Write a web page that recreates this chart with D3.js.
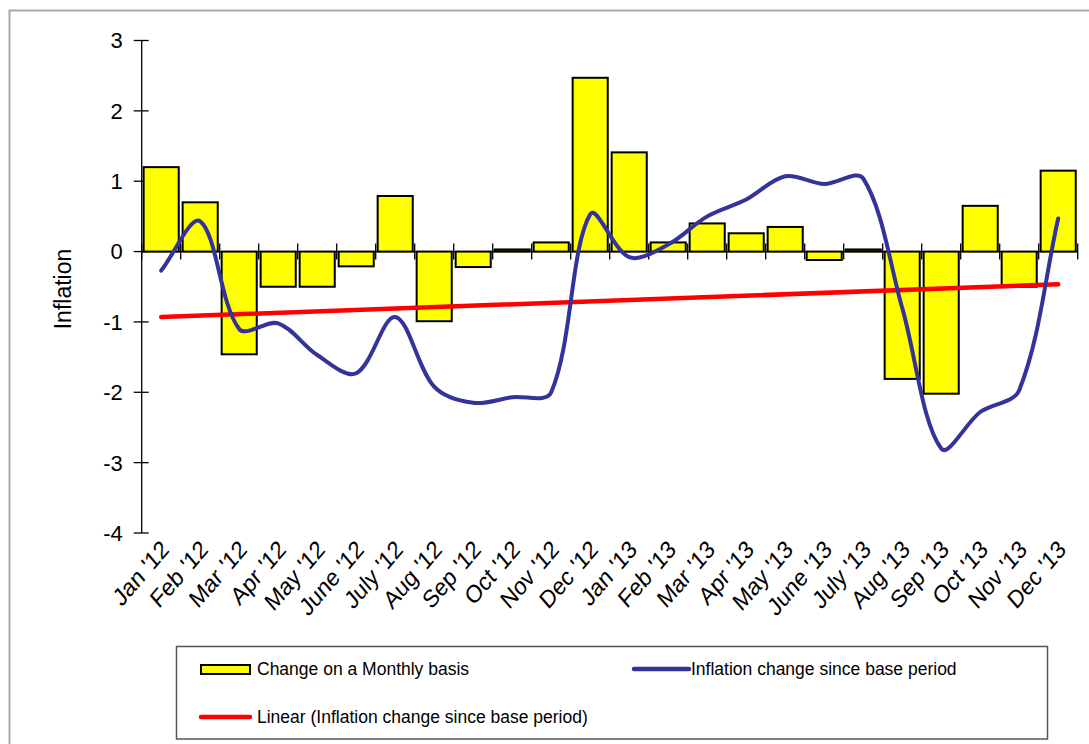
<!DOCTYPE html>
<html>
<head>
<meta charset="utf-8">
<script src="https://cdn.jsdelivr.net/npm/d3@7"></script>
<style>
  body { margin: 0; background: #fff; }
  svg { display: block; }
  text { font-family: "Liberation Sans", Arial, sans-serif; fill: #000; }
</style>
</head>
<body>
<svg id="chart" width="1089" height="744"></svg>
<script>
// Months on the category axis
const months = ["Jan '12", "Feb '12", "Mar '12", "Apr '12", "May '12", "June '12",
  "July '12", "Aug '12", "Sep '12", "Oct '12", "Nov '12", "Dec '12",
  "Jan '13", "Feb '13", "Mar '13", "Apr '13", "May '13", "June '13",
  "July '13", "Aug '13", "Sep '13", "Oct '13", "Nov '13", "Dec '13"];

// Month-on-month change (bars)
const monthlyChange = [1.2, 0.7, -1.46, -0.5, -0.5, -0.21, 0.79, -0.99, -0.22, 0.03, 0.13, 2.47,
  1.41, 0.13, 0.4, 0.26, 0.35, -0.12, 0.03, -1.81, -2.02, 0.65, -0.5, 1.15];

// Cumulative change since the base period (smoothed line)
const sinceBase = [-0.27, 0.43, -1.1, -1.02, -1.47, -1.73, -0.93, -1.92, -2.15, -2.07, -2.0, 0.53,
  -0.08, 0.1, 0.5, 0.74, 1.07, 0.96, 1.04, -0.8, -2.8, -2.28, -1.97, 0.47];

const yTicks = [3, 2, 1, 0, -1, -2, -3, -4];

const seriesNames = ["Change on a Monthly basis", "Inflation change since base period",
  "Linear (Inflation change since base period)"];

const barFill = "#ffff00";
const lineBlue = "#333399";
const trendRed = "#ff0000";

const svg = d3.select("#chart");

// Outer chart frame
svg.append("rect")
  .attr("x", 9.5).attr("y", 10.5).attr("width", 1200).attr("height", 900)
  .attr("fill", "none").attr("stroke", "#a8a8a8").attr("stroke-width", 2);

const x = d3.scaleBand().domain(months).range([141.7, 1077.7])
  .paddingInner(0.1).paddingOuter(0.05);
const y = d3.scaleLinear().domain([-4, 3]).range([533, 40.5]);

const cx = m => x(m) + x.bandwidth() / 2;

// Value axis with ticks crossing the line
const yAxis = svg.append("g").attr("transform", `translate(${141.7},0)`);
yAxis.append("line").attr("y1", y(3)).attr("y2", y(-4)).attr("stroke", "#000").attr("stroke-width", 1.3);
yAxis.selectAll("line.tick").data(yTicks).enter().append("line")
  .attr("class", "tick")
  .attr("x1", -8).attr("x2", 7).attr("y1", d => y(d)).attr("y2", d => y(d))
  .attr("stroke", "#000").attr("stroke-width", 1.3);
yAxis.selectAll("text").data(yTicks).enter().append("text")
  .attr("x", -19).attr("y", d => y(d)).attr("dy", "0.36em")
  .attr("text-anchor", "end").attr("font-size", 22)
  .text(d => d);

// Category axis drawn along zero
const step = x.step();
const boundaries = d3.range(months.length + 1).map(i => 141.7 + i * step);
svg.append("line")
  .attr("x1", 141.7).attr("x2", 1077.7).attr("y1", y(0)).attr("y2", y(0))
  .attr("stroke", "#000").attr("stroke-width", 1.3);
svg.selectAll("line.xtick").data(boundaries).enter().append("line")
  .attr("class", "xtick")
  .attr("x1", d => d).attr("x2", d => d)
  .attr("y1", y(0) - 8).attr("y2", y(0) + 8)
  .attr("stroke", "#000").attr("stroke-width", 1.3);

// Rotated month labels under the plot (narrow, steep lettering)
svg.selectAll("text.xlab").data(months).enter().append("text")
  .attr("class", "xlab")
  .attr("font-size", 25)
  .attr("text-anchor", "end")
  .attr("transform", d => `translate(${cx(d) + 9},${551}) scale(0.86,1) rotate(-45)`)
  .text(d => d);

// Bars
svg.selectAll("rect.bar").data(months).enter().append("rect")
  .attr("class", "bar")
  .attr("x", d => x(d))
  .attr("width", x.bandwidth())
  .attr("y", (d, i) => y(Math.max(0, monthlyChange[i])))
  .attr("height", (d, i) => Math.abs(y(monthlyChange[i]) - y(0)))
  .attr("fill", barFill).attr("stroke", "#000").attr("stroke-width", 2);

// Least-squares trend of the cumulative series
const n = sinceBase.length;
const meanI = (n - 1) / 2;
const meanV = d3.mean(sinceBase);
const slope = d3.sum(sinceBase, (v, i) => (i - meanI) * (v - meanV)) /
  d3.sum(sinceBase, (v, i) => (i - meanI) * (i - meanI));
const trendAt = i => meanV + slope * (i - meanI);

svg.append("line")
  .attr("x1", cx(months[0])).attr("y1", y(trendAt(0)))
  .attr("x2", cx(months[n - 1])).attr("y2", y(trendAt(n - 1)))
  .attr("stroke", trendRed).attr("stroke-width", 4.5)
  .attr("stroke-linecap", "round");

// Smoothed cumulative line: cubic Bezier segments whose tangents are
// shared between neighbours and weighted by on-screen segment length
const pts = sinceBase.map((v, i) => [cx(months[i]), y(v)]);
const dist = (a, b) => Math.hypot(b[0] - a[0], b[1] - a[1]);
const seg = d3.range(n - 1).map(i => dist(pts[i], pts[i + 1]));
const tangent = i => {
  const a = pts[Math.max(0, i - 1)], b = pts[Math.min(n - 1, i + 1)];
  return [b[0] - a[0], b[1] - a[1]];
};
const weight = (i, s) => {
  // share of the tangent given to segment s at point i
  const before = i > 0 ? seg[i - 1] : seg[0];
  const after = i < n - 1 ? seg[i] : seg[n - 2];
  const endScale = (i === 0 || i === n - 1) ? 2 : 1;
  return seg[s] / (before + after) / 3 * endScale;
};
const p = d3.path();
p.moveTo(pts[0][0], pts[0][1]);
for (let i = 0; i < n - 1; i++) {
  const t0 = tangent(i), t1 = tangent(i + 1);
  const w0 = weight(i, i), w1 = weight(i + 1, i);
  p.bezierCurveTo(
    pts[i][0] + t0[0] * w0, pts[i][1] + t0[1] * w0,
    pts[i + 1][0] - t1[0] * w1, pts[i + 1][1] - t1[1] * w1,
    pts[i + 1][0], pts[i + 1][1]);
}
svg.append("path")
  .attr("d", p.toString())
  .attr("fill", "none").attr("stroke", lineBlue).attr("stroke-width", 4)
  .attr("stroke-linecap", "round").attr("stroke-linejoin", "round");

// Axis title
svg.append("text")
  .attr("transform", "translate(71,289) rotate(-90)")
  .attr("text-anchor", "middle").attr("font-size", 23)
  .text("Inflation");

// Legend
const legend = svg.append("g");
legend.append("rect")
  .attr("x", 176.5).attr("y", 646.5).attr("width", 871).attr("height", 92.5)
  .attr("fill", "#fff").attr("stroke", "#555").attr("stroke-width", 1.5);

legend.append("rect")
  .attr("x", 201).attr("y", 665).attr("width", 49).attr("height", 9)
  .attr("fill", barFill).attr("stroke", "#000").attr("stroke-width", 2);
legend.append("text").attr("x", 257).attr("y", 675).attr("font-size", 17.5).text(seriesNames[0]);

legend.append("line")
  .attr("x1", 634).attr("x2", 689).attr("y1", 669).attr("y2", 669)
  .attr("stroke", lineBlue).attr("stroke-width", 4.5).attr("stroke-linecap", "round");
legend.append("text").attr("x", 691).attr("y", 675).attr("font-size", 17.5).text(seriesNames[1]);

legend.append("line")
  .attr("x1", 201).attr("x2", 250).attr("y1", 717).attr("y2", 717)
  .attr("stroke", trendRed).attr("stroke-width", 4.5).attr("stroke-linecap", "round");
legend.append("text").attr("x", 257).attr("y", 723).attr("font-size", 17.5).text(seriesNames[2]);
</script>
</body>
</html>
